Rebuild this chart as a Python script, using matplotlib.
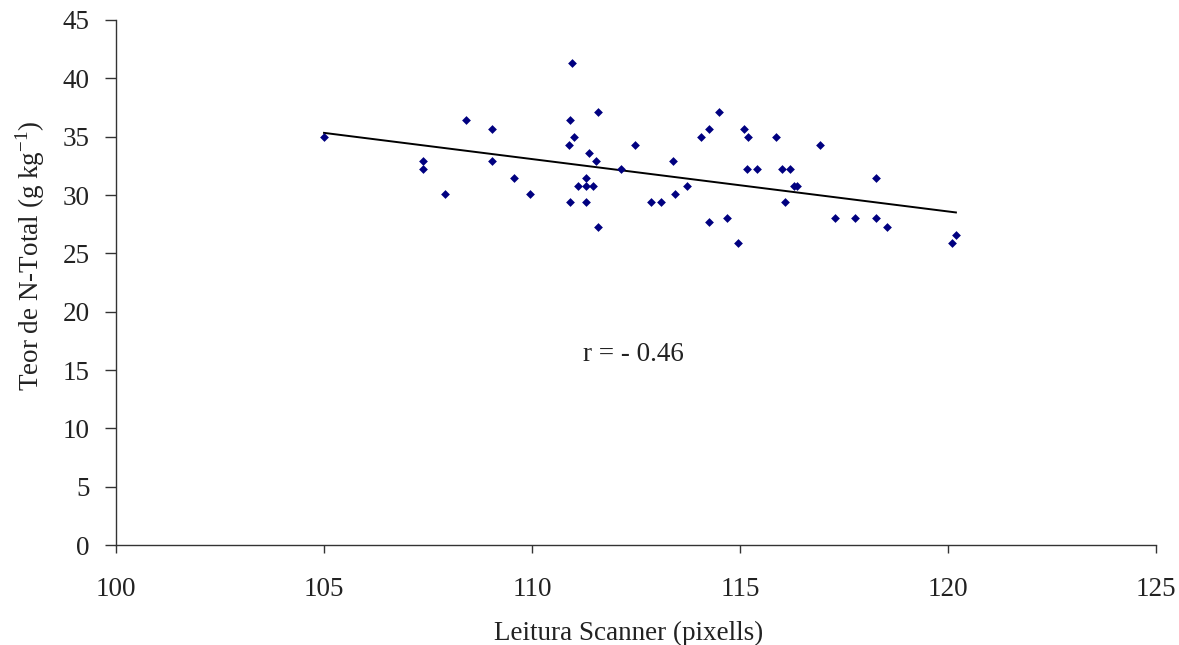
import numpy as np
import matplotlib
matplotlib.use("Agg")
import matplotlib.pyplot as plt

plt.rcParams['font.family'] = ['Liberation Serif', 'DejaVu Serif']
plt.rcParams['mathtext.fontset'] = 'custom'
plt.rcParams['mathtext.rm'] = 'Liberation Serif'

leitura = [105.0, 107.37, 107.39, 107.9, 108.41, 109.05, 109.05, 109.57, 109.94,
           110.92, 111.02, 110.9, 111.38, 111.55, 111.58, 111.3, 111.1, 111.3, 111.46,
           110.92, 111.3, 111.58, 110.96, 112.48, 112.13, 113.4, 112.85, 113.09, 113.43,
           113.72, 114.07, 114.26, 114.5, 114.26, 114.69, 114.94, 115.09, 115.2, 115.17,
           115.4, 115.87, 116.0, 116.2, 116.3, 116.38, 116.07, 116.92, 117.28, 117.76,
           118.28, 118.28, 118.54, 120.19, 120.1]
teor_n = [35.0, 32.9, 32.2, 30.1, 36.4, 35.7, 32.9, 31.5, 30.1,
          36.4, 35.0, 34.3, 33.6, 32.9, 37.1, 31.5, 30.8, 30.8, 30.8,
          29.4, 29.4, 27.3, 41.3, 34.3, 32.2, 32.9, 29.4, 29.4, 30.1,
          30.8, 35.0, 35.7, 37.1, 27.7, 28.0, 25.9, 35.7, 35.0, 32.2,
          32.2, 35.0, 32.2, 32.2, 30.8, 30.8, 29.4, 34.3, 28.0, 28.0,
          31.5, 28.0, 27.3, 26.6, 25.9]
# trend line as drawn in the figure
trend_slope = -0.449
trend_intercept = 82.47
r_text = "r = - 0.46"

x = np.array(leitura)
y = np.array(teor_n)

fig = plt.figure(figsize=(11.79, 6.45), dpi=100)
ax = fig.add_axes([0.0984, 0.155, 0.8821, 0.814])

ax.scatter(x, y, marker='D', s=20, color='#000080', zorder=3, linewidths=0)
xl = np.array([x.min(), x.max()])
ax.plot(xl, trend_slope * xl + trend_intercept, color='black', lw=1.4, zorder=2)

ax.set_xlim(100, 125)
ax.set_ylim(0, 45)
ax.set_xticks(np.arange(100, 126, 5))
ax.set_yticks(np.arange(0, 46, 5))
for s in ['top', 'right']:
    ax.spines[s].set_visible(False)
for s in ['left', 'bottom']:
    ax.spines[s].set_color('#333333')
    ax.spines[s].set_linewidth(1.0)
ax.tick_params(axis='x', direction='out', length=6, width=1, color='#333333',
               labelsize=19.5, pad=17, labelcolor='#222222')
ax.tick_params(axis='y', direction='out', length=8, width=1, color='#333333',
               labelsize=19.5, pad=11, labelcolor='#222222')

ax.set_xlabel('Leitura Scanner (pixells)', fontsize=19.5, color='#222222')
ax.xaxis.set_label_coords(0.493, -0.145)
ax.set_ylabel('Teor de N-Total (g kg$^{\\mathregular{-1}}$)', fontsize=19.5, color='#222222')
ax.yaxis.set_label_coords(-0.066, 0.55)

ax.text(112.45, 16.3, r_text, fontsize=19.5, ha='center', va='center', color='#222222')

fig.savefig('out.png', dpi=100)
